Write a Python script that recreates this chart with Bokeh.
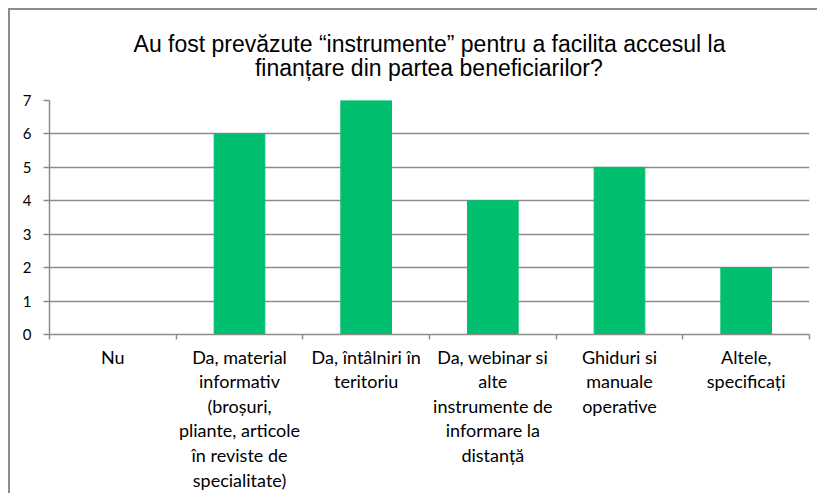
from bokeh.plotting import figure
from bokeh.models import Range1d, FixedTicker, Title
from bokeh.embed import file_html
from bokeh.resources import INLINE

categories = ["Nu",
              "Da, material\ninformativ\n(broșuri,\npliante, articole\nîn reviste de\nspecialitate)",
              "Da, întâlniri în\nteritoriu",
              "Da, webinar si\nalte\ninstrumente de\ninformare la\ndistanță",
              "Ghiduri si\nmanuale\noperative",
              "Altele,\nspecificați"]
values = [0, 6, 7, 4, 5, 2]
y_ticks = [0, 1, 2, 3, 4, 5, 6, 7]
title_lines = ["Au fost prevăzute “instrumente” pentru a facilita accesul la",
               "finanțare din partea beneficiarilor?"]

centers = [i + 0.5 for i in range(len(categories))]

# second title line is indented with non-breaking spaces so it sits centred
title_text = title_lines[0] + "\n" + "\u00a0" * 19 + title_lines[1]

p = figure(width=809, height=485, output_backend="svg", toolbar_location=None,
           x_range=Range1d(0, len(categories)), y_range=Range1d(0, 7),
           min_border_left=41, min_border_right=8, min_border_top=92,
           min_border_bottom=158, title=None)
p.styles = {"margin-left": "8px", "margin-top": "8px",
            "box-shadow": "inset 2px 2px 0 0 #8c8c8c"}
p.outline_line_color = None
p.background_fill_color = "white"
p.border_fill_alpha = 0

p.vbar(x=centers, top=values, width=0.4, color="#00BF6F")

p.title = Title(text=title_text, align="center", text_font="Liberation Sans",
                text_font_size="23px", text_font_style="normal", text_color="#000000",
                text_line_height=0.93, standoff=39, offset=-19)

# x axis
xa = p.xaxis[0]
xa.ticker = FixedTicker(ticks=centers, minor_ticks=list(range(len(categories) + 1)))
xa.major_label_overrides = {c: lab for c, lab in zip(centers, categories)}
xa.major_tick_line_color = None
xa.major_tick_out = 0
xa.minor_tick_out = 5
xa.minor_tick_in = 0
xa.minor_tick_line_color = "#8c8c8c"
xa.minor_tick_line_width = 1.5
xa.axis_line_color = "#8c8c8c"
xa.axis_line_width = 1.5
xa.major_label_text_font = "Lato"
xa.major_label_text_font_size = "18px"
xa.major_label_text_color = "#000000"
xa.major_label_text_line_height = 1.12
xa.major_label_standoff = 6
xa.major_label_orientation = "horizontal"

# y axis
ya = p.yaxis[0]
ya.ticker = FixedTicker(ticks=y_ticks)
ya.minor_tick_line_color = None
ya.major_tick_out = 6
ya.major_tick_in = 0
ya.major_tick_line_color = "#8c8c8c"
ya.major_tick_line_width = 1.5
ya.axis_line_color = "#8c8c8c"
ya.axis_line_width = 1.5
ya.major_label_text_font = "Lato"
ya.major_label_text_font_size = "15px"
ya.major_label_text_color = "#000000"
ya.major_label_standoff = 12

p.xgrid.grid_line_color = None
p.ygrid.grid_line_color = "#8c8c8c"
p.ygrid.grid_line_width = 1.5
p.ygrid.ticker = FixedTicker(ticks=y_ticks)

open("out.html", "w").write(file_html(p, INLINE))
